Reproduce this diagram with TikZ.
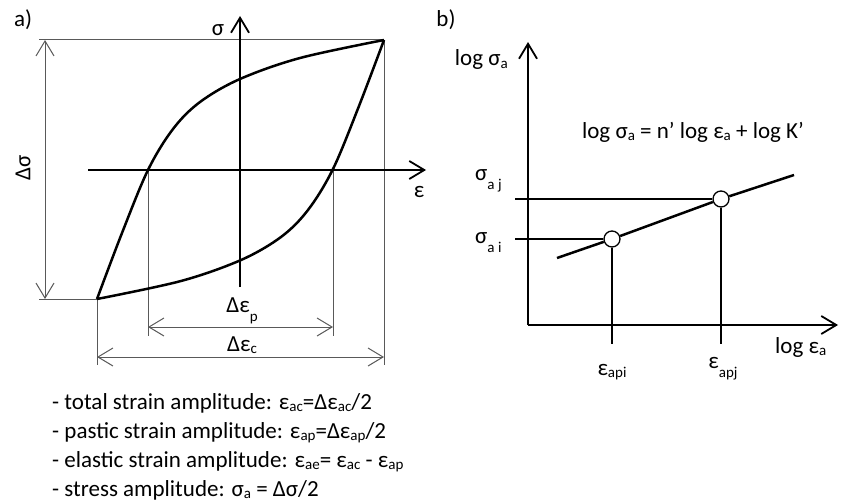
\documentclass[tikz,border=0pt]{standalone}
\usepackage{fontspec}
\setmainfont{Carlito}
\usetikzlibrary{arrows.meta}
\newcommand\sbs[1]{\raisebox{-0.12em}{\fontsize{15}{15}\selectfont #1}}
\newcommand\sbd[1]{\raisebox{-0.4em}{\fontsize{15}{15}\selectfont #1}}
\begin{document}
\begin{tikzpicture}[x=1pt,y=-1pt, font=\fontsize{23}{29}\selectfont,
 barb/.tip={Straight Barb[length=15pt,width=18pt]},
 dim/.style={draw=black!65, line width=1pt},
 dimarrow/.style={dim, barb-barb},
 axis/.style={line width=1.8pt, -barb},
 curve/.style={line width=2.5pt, line join=round},
 guide/.style={line width=1.3pt},
 lbl/.style={inner sep=0pt},
 pt/.style={circle, draw, line width=1.3pt, fill=white, minimum size=16pt, inner sep=0pt}]
\useasboundingbox (0,0) rectangle (842,503);
% ---------- panel a ----------
\coordinate (TL) at (39,40);
\coordinate (TR) at (384,40);
\coordinate (BL) at (39,299);
\coordinate (LC) at (97,299);
\coordinate (P1) at (148,170);
\coordinate (P2) at (333,170);
\draw[dim] (TL) -- (TR);
\draw[dim] (BL) -- (LC);
\draw[dim] (LC) -- (97,365);
\draw[dim] (TR) -- (384,365);
\draw[dim] (P1) -- (148,336);
\draw[dim] (P2) -- (333,336);
\draw[dimarrow] (45,40) -- (45,299);
\draw[dimarrow] (148,327) -- (333,327);
\draw[dimarrow] (97,357) -- (384,357);
\draw[axis] (240,287) -- (240,16);
\draw[axis] (88,170) -- (426,170);
\draw[curve] plot[smooth, tension=0.55] coordinates {(97,299) (122,233) (148,170) (173,129) (200,102) (240,79) (300,58) (384,40)};
\draw[curve] plot[smooth, tension=0.55] coordinates {(384,40) (359,106) (333,169) (308,210) (281,237) (241,260) (181,281) (97,299)};
\node[lbl] (la) at (23,20) {a)};
\node[lbl] (lsig) at (218,30) {σ};
\node[lbl] (leps) at (419,192) {ε};
\node[lbl, rotate=90] (ldsig) at (23,168) {Δσ};
\node[lbl, anchor=base] (ldep) at (242,312) {Δε\sbd{p}};
\node[lbl, anchor=base] (ldec) at (242,351) {Δε\sbs{c}};
\node[lbl, anchor=base west] (t1) at (52,409) {- total strain amplitude: ε\sbs{ac}=Δε\sbs{ac}/2};
\node[lbl, anchor=base west] (t2) at (52,438) {- pastic strain amplitude: ε\sbs{ap}=Δε\sbs{ap}/2};
\node[lbl, anchor=base west] (t3) at (52,467) {- elastic strain amplitude: ε\sbs{ae}= ε\sbs{ac} - ε\sbs{ap}};
\node[lbl, anchor=base west] (t4) at (52,496) {- stress amplitude: σ\sbs{a} = Δσ/2};
% ---------- panel b ----------
\node[pt] (cj) at (721,199) {};
\node[pt] (ci) at (612,239) {};
\coordinate (Lj) at (515,199);
\coordinate (Li) at (515,239);
\coordinate (Bj) at (721,344);
\coordinate (Bi) at (612,344);
\draw[guide] (Lj) -- (cj.west);
\draw[guide] (Li) -- (ci.west);
\draw[guide] (cj.south) -- (Bj);
\draw[guide] (ci.south) -- (Bi);
\draw[axis] (528,325) -- (528,42);
\draw[axis] (528,325) -- (838,325);
\draw[curve] (557,258) -- (ci);
\draw[curve] (ci) -- (cj);
\draw[curve] (cj) -- (794,175);
\node[lbl] (lb) at (446,20) {b)};
\node[lbl, anchor=base east] (lys) at (508,66) {log σ\sbs{a}};
\node[lbl, anchor=base] (eq) at (693,138) {log σ\sbs{a} = n’ log ε\sbs{a} + log K’};
\node[lbl, anchor=base west] (lsj) at (475,180) {σ\sbd{a j}};
\node[lbl, anchor=base west] (lsi) at (475,243) {σ\sbd{a i}};
\node[lbl, anchor=base west] (lxe) at (775,353) {log ε\sbs{a}};
\node[lbl, anchor=base] (lei) at (612,375) {ε\sbs{api}};
\node[lbl, anchor=base] (lej) at (723,368) {ε\sbd{apj}};
\end{tikzpicture}
\end{document}
